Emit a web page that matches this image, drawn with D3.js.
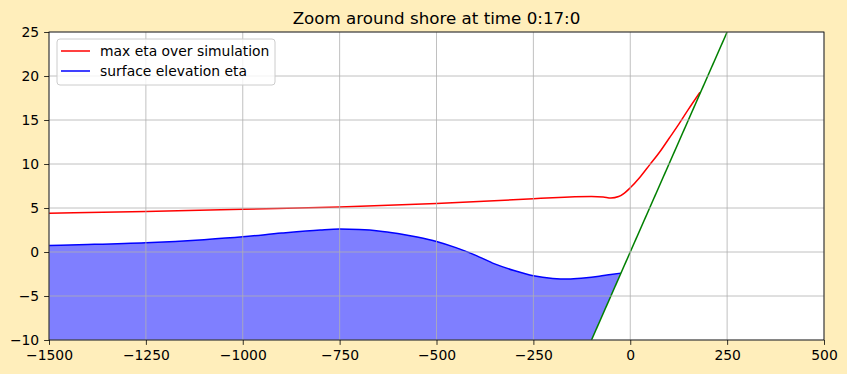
<!DOCTYPE html>
<html>
<head>
<meta charset="utf-8">
<script src="https://cdn.jsdelivr.net/npm/d3@7.9.0/dist/d3.min.js"></script>
<style>
  body { margin: 0; background: #ffeebb; }
  svg { display: block; font-family: "DejaVu Sans", sans-serif; }
</style>
</head>
<body>
<svg id="chart" width="847" height="374"></svg>
<script>
// data
const etaX = [-1500, -1400, -1250, -1100, -1000, -900, -800, -750, -700, -650, -600, -550, -500, -450, -400, -350, -300, -250, -200, -160, -120, -80, -50, -24];
const etaY = [0.75, 0.85, 1.05, 1.4, 1.72, 2.15, 2.5, 2.6, 2.55, 2.4, 2.1, 1.7, 1.2, 0.5, -0.35, -1.35, -2.1, -2.7, -3.0, -3.07, -2.95, -2.75, -2.55, -2.4];

const maxX = [-1500, -1250, -1000, -750, -500, -250, -200, -100, -70, -50, -30, -15, 0, 25, 50, 75, 100, 125, 150, 180];
const maxY = [4.4, 4.6, 4.85, 5.1, 5.5, 6.05, 6.17, 6.3, 6.25, 6.13, 6.3, 6.7, 7.3, 8.5, 9.9, 11.3, 12.9, 14.5, 16.2, 18.15];

const topoX = [-1500, 500];
const topoY = [-150, 50];

const xTicks = [-1500, -1250, -1000, -750, -500, -250, 0, 250, 500];
const yTicks = [-10, -5, 0, 5, 10, 15, 20, 25];

const margin = { top: 32, right: 23, bottom: 34, left: 49 };
const W = 847, H = 374;
const w = W - margin.left - margin.right;
const h = H - margin.top - margin.bottom;

const svg = d3.select('#chart');

svg.append('text')
  .attr('x', margin.left + w / 2)
  .attr('y', 24)
  .attr('text-anchor', 'middle')
  .attr('font-size', 16.7)
  .text('Zoom around shore at time 0:17:0');

const g = svg.append('g').attr('transform', `translate(${margin.left},${margin.top})`);

const x = d3.scaleLinear().domain([-1500, 500]).range([0, w]);
const y = d3.scaleLinear().domain([-10, 25]).range([h, 0]);

g.append('rect').attr('width', w).attr('height', h).attr('fill', 'white');

svg.append('defs').append('clipPath').attr('id', 'clip')
  .append('rect').attr('width', w).attr('height', h);

const plot = g.append('g').attr('clip-path', 'url(#clip)');

// topography used as the lower edge of the water fill
const topo = d3.scaleLinear().domain(topoX).range(topoY);
const eta = etaX.map((d, i) => ({ x: d, y: etaY[i] }));
const maxEta = maxX.map((d, i) => ({ x: d, y: maxY[i] }));
const topoPts = topoX.map((d, i) => ({ x: d, y: topoY[i] }));

plot.append('path')
  .datum(eta)
  .attr('fill', '#0000ff')
  .attr('fill-opacity', 0.5)
  .attr('d', d3.area().x(d => x(d.x)).y1(d => y(d.y)).y0(d => y(topo(d.x))).curve(d3.curveMonotoneX));

// grid
g.append('g').selectAll('line').data(xTicks).join('line')
  .attr('x1', d => x(d)).attr('x2', d => x(d))
  .attr('y1', 0).attr('y2', h)
  .attr('stroke', '#b0b0b0').attr('stroke-width', 0.8);
g.append('g').selectAll('line').data(yTicks).join('line')
  .attr('y1', d => y(d)).attr('y2', d => y(d))
  .attr('x1', 0).attr('x2', w)
  .attr('stroke', '#b0b0b0').attr('stroke-width', 0.8);

const line = d3.line().x(d => x(d.x)).y(d => y(d.y)).curve(d3.curveMonotoneX);

plot.append('path').datum(maxEta)
  .attr('fill', 'none').attr('stroke', '#ff0000').attr('stroke-width', 1.5)
  .attr('d', line);

plot.append('path').datum(eta)
  .attr('fill', 'none').attr('stroke', '#0000ff').attr('stroke-width', 1.5)
  .attr('d', line);

plot.append('path').datum(topoPts)
  .attr('fill', 'none').attr('stroke', '#008000').attr('stroke-width', 1.5)
  .attr('d', d3.line().x(d => x(d.x)).y(d => y(d.y)));

// axes
const fmt = d3.format('d');
const xAxis = g.append('g').attr('transform', `translate(0,${h})`)
  .call(d3.axisBottom(x).tickValues(xTicks).tickFormat(fmt).tickSize(4.9).tickPadding(4.9));
const yAxis = g.append('g')
  .call(d3.axisLeft(y).tickValues(yTicks).tickFormat(fmt).tickSize(4.9).tickPadding(4.9));
[xAxis, yAxis].forEach(a => {
  a.select('.domain').remove();
  a.selectAll('text').attr('font-size', 13.9).attr('fill', 'black').attr('font-family', '"DejaVu Sans", sans-serif');
  a.selectAll('line').attr('stroke', 'black').attr('stroke-width', 0.8);
});

g.append('rect').attr('width', w).attr('height', h)
  .attr('fill', 'none').attr('stroke', 'black').attr('stroke-width', 0.8);

// legend
const leg = g.append('g').attr('transform', 'translate(8,7)');
leg.append('rect')
  .attr('width', 218).attr('height', 46).attr('rx', 3)
  .attr('fill', 'white').attr('fill-opacity', 0.8)
  .attr('stroke', '#cccccc').attr('stroke-width', 1);
const items = [['max eta over simulation', '#ff0000'], ['surface elevation eta', '#0000ff']];
items.forEach(([label, color], i) => {
  const yy = 12 + i * 20;
  leg.append('line').attr('x1', 4).attr('x2', 33).attr('y1', yy).attr('y2', yy)
    .attr('stroke', color).attr('stroke-width', 1.5);
  leg.append('text').attr('x', 43).attr('y', yy + 5)
    .attr('font-size', 13.9).text(label);
});
</script>
</body>
</html>
